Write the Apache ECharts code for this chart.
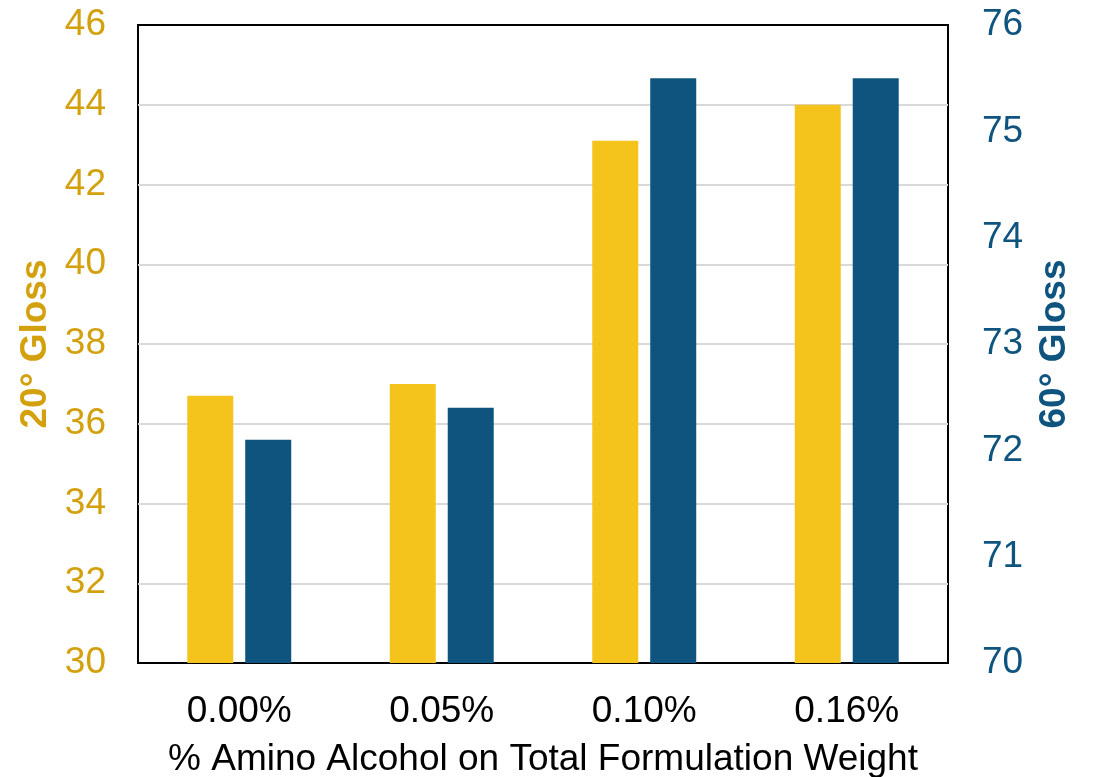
<!DOCTYPE html>
<html>
<head>
<meta charset="utf-8">
<script src="https://cdn.jsdelivr.net/npm/echarts@6/dist/echarts.min.js"></script>
<style>
  html, body { margin: 0; padding: 0; background: #fff; }
  #chart { width: 1094px; height: 777px; }
</style>
</head>
<body>
<div id="chart"></div>
<script>
// amino alcohol loading levels
var categories = ['0.00%', '0.05%', '0.10%', '0.16%'];
var gloss20 = [36.7, 37.0, 43.1, 44.0];   // left axis
var gloss60 = [72.1, 72.4, 75.5, 75.5];   // right axis

var yellow = '#F5C41C';
var gold = '#D4A10E';
var blue = '#0E547E';
var font = 'Liberation Sans, Arial, sans-serif';

var chart = echarts.init(document.getElementById('chart'));
var option = {
    animation: false,
    grid: {
        left: 138, right: 146, top: 25, bottom: 114,
        outerBoundsMode: 'none',
        containLabel: false,
        show: true, borderColor: '#000', borderWidth: 2, backgroundColor: 'transparent'
    },
    xAxis: {
        type: 'category',
        data: categories,
        name: '% Amino Alcohol on Total Formulation Weight',
        nameLocation: 'middle',
        nameGap: 78,
        nameTextStyle: { color: '#000', fontSize: 37, fontFamily: font },
        axisLine: { lineStyle: { color: '#000', width: 2 } },
        axisTick: { show: false },
        axisLabel: { color: '#000', fontSize: 37, fontFamily: font, margin: 30 }
    },
    yAxis: [
        {
            type: 'value',
            min: 30, max: 46, interval: 2,
            name: '20° Gloss',
            nameLocation: 'middle',
            nameRotate: 90,
            nameGap: 83,
            nameTextStyle: { color: gold, fontSize: 37, fontWeight: 'bold', fontFamily: font },
            axisLine: { show: false },
            axisTick: { show: false },
            axisLabel: { color: gold, fontSize: 37, fontFamily: font, margin: 32 },
            splitLine: { showMinLine: false, showMaxLine: false, lineStyle: { color: '#d9d9d9', width: 2 } }
        },
        {
            type: 'value',
            min: 70, max: 76, interval: 1,
            name: '60° Gloss',
            nameLocation: 'middle',
            nameRotate: 90,
            nameGap: 88,
            nameTextStyle: { color: blue, fontSize: 37, fontWeight: 'bold', fontFamily: font },
            axisLine: { show: false },
            axisTick: { show: false },
            axisLabel: { color: blue, fontSize: 37, fontFamily: font, margin: 34 },
            splitLine: { show: false }
        }
    ],
    series: [
        {
            name: '20° Gloss',
            type: 'bar',
            yAxisIndex: 0,
            data: gloss20,
            barWidth: 46,
            barGap: '26%',
            itemStyle: { color: yellow }
        },
        {
            name: '60° Gloss',
            type: 'bar',
            yAxisIndex: 1,
            data: gloss60,
            barWidth: 46,
            barGap: '26%',
            itemStyle: { color: blue }
        }
    ]
};
chart.setOption(option);
</script>
</body>
</html>
